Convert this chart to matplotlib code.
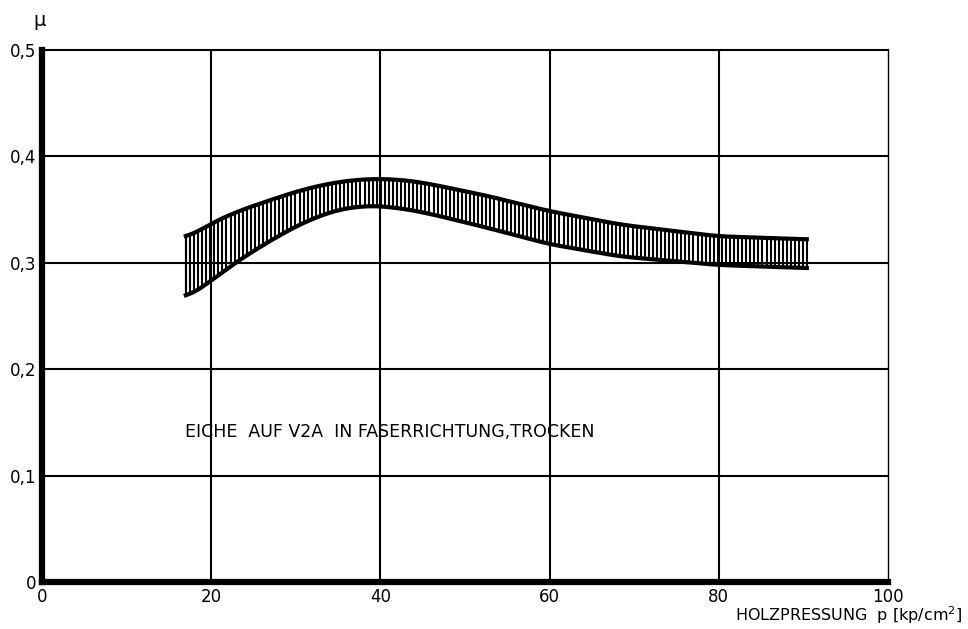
import matplotlib
matplotlib.use("Agg")
import matplotlib.pyplot as plt
import numpy as np

plt.rcParams['font.family'] = ['DejaVu Sans']

# band edges (Holzpressung vs. mu)
p_upper = [17.0, 20.0, 23.0, 27.0, 30.9, 34.9, 38.8, 42.7, 45.9, 52.6, 59.7, 68.3, 79.8, 90.4]
mu_upper = [0.323, 0.337, 0.348, 0.359, 0.369, 0.376, 0.379, 0.378, 0.374, 0.363, 0.349, 0.336, 0.325, 0.322]
p_lower = [17.0, 20.0, 23.0, 27.0, 30.9, 34.9, 38.8, 42.7, 45.9, 52.6, 59.7, 68.3, 79.8, 90.4]
mu_lower = [0.267, 0.283, 0.301, 0.321, 0.338, 0.350, 0.354, 0.351, 0.346, 0.333, 0.318, 0.306, 0.298, 0.295]

x_ticks = [0, 20, 40, 60, 80, 100]
y_ticks = [0, 0.1, 0.2, 0.3, 0.4, 0.5]
y_labels = ['0', '0,1', '0,2', '0,3', '0,4', '0,5']

fig = plt.figure(figsize=(9.68, 6.29), dpi=100)
ax = fig.add_axes([0.0434, 0.0747, 0.874, 0.8458])

# grid
for xv in x_ticks[1:-1]:
    ax.axvline(xv, color='black', lw=1.5, zorder=1)
for yv in y_ticks[1:-1]:
    ax.axhline(yv, color='black', lw=1.5, zorder=1)

# smooth edges
xs = np.linspace(p_upper[0], p_upper[-1], 400)
up = np.interp(xs, p_upper, mu_upper)
lo = np.interp(xs, p_lower, mu_lower)
k = np.ones(21) / 21
up_s = np.convolve(np.pad(up, 10, mode='edge'), k, mode='valid')
lo_s = np.convolve(np.pad(lo, 10, mode='edge'), k, mode='valid')

# vertical hatching inside the band
hx = np.arange(p_upper[0], p_upper[-1] + 0.01, 0.48)
ax.vlines(hx, np.interp(hx, xs, lo_s), np.interp(hx, xs, up_s), color='black', lw=1.5, zorder=2)
ax.plot(xs, up_s, color='black', lw=3, zorder=3)
ax.plot(xs, lo_s, color='black', lw=3, zorder=3)
ax.plot([xs[0], xs[0]], [lo_s[0], up_s[0]], color='black', lw=1.5, zorder=3)
ax.plot([xs[-1], xs[-1]], [lo_s[-1], up_s[-1]], color='black', lw=1.5, zorder=3)

ax.set_xlim(0, 100)
ax.set_ylim(0, 0.5)
ax.set_xticks(x_ticks)
ax.set_yticks(y_ticks)
ax.set_yticklabels(y_labels)
ax.tick_params(length=0, labelsize=12, pad=4)
ax.spines['left'].set_linewidth(4.5)
ax.spines['bottom'].set_linewidth(4.5)
ax.spines['top'].set_linewidth(1.5)
ax.spines['right'].set_linewidth(1.0)

ax.text(16.9, 0.141, 'EICHE  AUF V2A  IN FASERRICHTUNG,TROCKEN', fontsize=12.5, va='center', ha='left')
fig.text(40 / 968, 1 - 20 / 629, 'μ', fontsize=14, ha='center', va='center')
fig.text(962 / 968, 1 - 615 / 629, 'HOLZPRESSUNG  p [kp/cm$^2$]', fontsize=11.5, ha='right', va='center')

fig.savefig('out.png', dpi=100)
